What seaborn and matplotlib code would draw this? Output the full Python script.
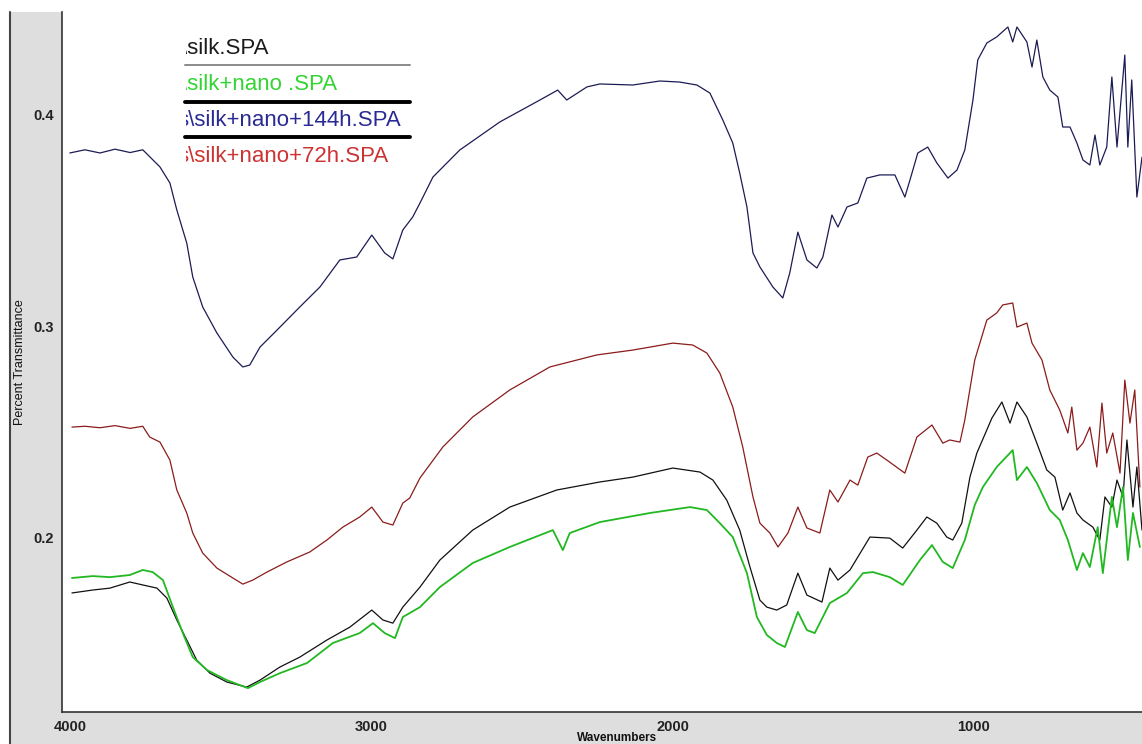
import matplotlib
matplotlib.use("Agg")
import matplotlib.pyplot as plt
from matplotlib.lines import Line2D
from matplotlib.patches import Rectangle
from matplotlib.transforms import Bbox
import pandas as pd
import seaborn as sns

# FTIR spectra (wavenumber, transmittance)
silk_wn = [3993, 3924, 3867, 3801, 3758, 3711, 3678, 3645, 3612, 3579, 3535, 3479, 3413, 3369, 3303,
           3237, 3147, 3071, 2998, 2961, 2928, 2895, 2838, 2772, 2663, 2540, 2384, 2241, 2132, 1999,
           1909, 1866, 1820, 1777, 1743, 1710, 1687, 1654, 1621, 1584, 1554, 1504, 1478, 1451, 1411,
           1345, 1279, 1236, 1189, 1156, 1123, 1090, 1070, 1040, 1013, 990, 940, 907, 880, 857,
           824, 791, 758, 731, 705, 681, 658, 638, 605, 582, 565, 542, 525, 505, 492, 472, 459, 442]
silk_t = [0.1735, 0.1749, 0.1758, 0.1787, 0.1773, 0.1758, 0.1711, 0.1607, 0.1512, 0.1417, 0.1355, 0.1313,
          0.1289, 0.1322, 0.1384, 0.1431, 0.1512, 0.1573, 0.1654, 0.1607, 0.1592, 0.1668, 0.1763, 0.1891,
          0.2033, 0.2142, 0.2223, 0.2261, 0.2284, 0.2327, 0.2308, 0.227, 0.2175, 0.2033, 0.1858, 0.1701,
          0.1668, 0.1654, 0.1678, 0.1829, 0.1725, 0.1692, 0.1853, 0.1796, 0.1844, 0.2, 0.1995, 0.1948,
          0.2033, 0.2095, 0.2066, 0.2, 0.1986, 0.2066, 0.2284, 0.2398, 0.2564, 0.264, 0.254, 0.264,
          0.2569, 0.2445, 0.2318, 0.2284, 0.2128, 0.2209, 0.2114, 0.2081, 0.2047, 0.1986, 0.219, 0.2142,
          0.227, 0.219, 0.246, 0.2142, 0.2332, 0.2033]

nano_wn = [3993, 3924, 3867, 3801, 3758, 3725, 3691, 3658, 3625, 3592, 3545, 3479, 3409, 3369, 3303,
           3213, 3127, 3038, 2994, 2955, 2921, 2895, 2838, 2772, 2663, 2540, 2397, 2364, 2341, 2241,
           2075, 1942, 1886, 1843, 1800, 1753, 1720, 1687, 1654, 1627, 1584, 1554, 1528, 1478, 1421,
           1368, 1335, 1279, 1236, 1179, 1139, 1103, 1070, 1030, 997, 970, 924, 871, 857, 824,
           791, 748, 715, 688, 658, 638, 615, 589, 572, 542, 525, 505, 489, 472, 449]
nano_t = [0.1806, 0.1815, 0.181, 0.182, 0.1844, 0.1834, 0.1796, 0.1668, 0.1545, 0.1431, 0.137, 0.1322,
          0.1284, 0.1313, 0.1355, 0.1403, 0.1498, 0.1545, 0.1592, 0.1545, 0.1521, 0.1621, 0.1668, 0.1763,
          0.1877, 0.1953, 0.2033, 0.1938, 0.2019, 0.2071, 0.2114, 0.2142, 0.2128, 0.2066, 0.2, 0.1829,
          0.1621, 0.1536, 0.1498, 0.1479, 0.1645, 0.1559, 0.1545, 0.1687, 0.1735, 0.1829, 0.1834, 0.181,
          0.1773, 0.1891, 0.1962, 0.1882, 0.1853, 0.1986, 0.2152, 0.2237, 0.2332, 0.2412, 0.227, 0.2332,
          0.2256, 0.2128, 0.2081, 0.1986, 0.1844, 0.1924, 0.1858, 0.2047, 0.1829, 0.219, 0.2047, 0.2237,
          0.1891, 0.2114, 0.1953]

h144_wn = [4000, 3950, 3900, 3850, 3800, 3758, 3701, 3668, 3645, 3612, 3592, 3559, 3512, 3459, 3426,
           3403, 3369, 3313, 3237, 3170, 3104, 3048, 2998, 2955, 2928, 2895, 2862, 2838, 2795, 2706,
           2573, 2440, 2381, 2351, 2284, 2241, 2132, 2042, 1976, 1919, 1876, 1833, 1800, 1777, 1753,
           1733, 1710, 1667, 1634, 1611, 1584, 1554, 1521, 1501, 1471, 1451, 1421, 1385, 1355, 1312,
           1262, 1229, 1212, 1186, 1153, 1123, 1086, 1056, 1030, 1003, 987, 957, 924, 887, 871,
           857, 824, 807, 791, 771, 748, 721, 705, 681, 658, 638, 615, 598, 582, 559,
           542, 525, 499, 489, 476, 459, 442]
h144_t = [0.382, 0.3835, 0.382, 0.3838, 0.3822, 0.3835, 0.3754, 0.3678, 0.355, 0.3393, 0.3232, 0.309,
          0.2967, 0.2853, 0.2806, 0.2815, 0.290, 0.298, 0.309, 0.3185, 0.3313, 0.3327, 0.3431, 0.3346,
          0.3318, 0.3455, 0.3517, 0.3583, 0.3706, 0.3834, 0.3967, 0.4071, 0.4118, 0.4071, 0.4133, 0.4147,
          0.4142, 0.4161, 0.4156, 0.4142, 0.4104, 0.3976, 0.3867, 0.3725, 0.3564, 0.3346, 0.328, 0.3185,
          0.3133, 0.3251, 0.3445, 0.3313, 0.3275, 0.3327, 0.3526, 0.3469, 0.3564, 0.3583, 0.3701, 0.3716,
          0.3716, 0.3611, 0.3692, 0.382, 0.3848, 0.3773, 0.3701, 0.3739, 0.3834, 0.4071, 0.4261, 0.4341,
          0.437, 0.4417, 0.4346, 0.4417, 0.4346, 0.4227, 0.4355, 0.418, 0.4118, 0.4085, 0.3943, 0.3943,
          0.3867, 0.3787, 0.3763, 0.3905, 0.3763, 0.3848, 0.418, 0.3848, 0.4284, 0.3848, 0.4166, 0.3611, 0.38]

h72_wn = [3993, 3950, 3900, 3850, 3800, 3758, 3735, 3701, 3668, 3645, 3612, 3592, 3559, 3512, 3459,
          3426, 3393, 3346, 3280, 3204, 3147, 3094, 3038, 2998, 2961, 2928, 2895, 2872, 2838, 2762,
          2663, 2540, 2407, 2251, 2132, 1999, 1933, 1886, 1843, 1800, 1767, 1733, 1710, 1677, 1650,
          1617, 1584, 1554, 1511, 1478, 1451, 1411, 1385, 1352, 1322, 1289, 1229, 1189, 1139, 1103,
          1080, 1046, 1030, 997, 957, 924, 904, 871, 857, 824, 807, 774, 748, 715, 688,
          675, 658, 638, 615, 592, 575, 559, 539, 515, 499, 482, 466, 449]
h72_t = [0.2521, 0.2525, 0.2518, 0.2528, 0.2515, 0.2525, 0.2474, 0.245, 0.2365, 0.2223, 0.2114, 0.2019,
         0.1924, 0.1853, 0.1806, 0.1777, 0.1796, 0.1834, 0.1882, 0.1929, 0.1986, 0.2047, 0.2095, 0.2142,
         0.2071, 0.2057, 0.2161, 0.2185, 0.228, 0.2427, 0.2569, 0.2697, 0.2806, 0.2863, 0.2886, 0.2919,
         0.291, 0.2872, 0.2777, 0.2616, 0.2427, 0.219, 0.2066, 0.2019, 0.1953, 0.2019, 0.2142, 0.2043,
         0.2019, 0.2223, 0.2166, 0.227, 0.2246, 0.2379, 0.2398, 0.2365, 0.2303, 0.2474, 0.2531, 0.2445,
         0.246, 0.245, 0.2555, 0.2839, 0.3028, 0.3062, 0.31, 0.3109, 0.2995, 0.3014, 0.2919, 0.2839,
         0.2697, 0.2602, 0.2493, 0.2616, 0.2412, 0.2445, 0.2521, 0.2332, 0.2635, 0.2398, 0.2493, 0.2303,
         0.2744, 0.254, 0.2697, 0.2237]

legend_labels = ["\\silk.SPA", "\\silk+nano .SPA", "s\\silk+nano+144h.SPA", "s\\silk+nano+72h.SPA"]
legend_colors = ["#1a1a1a", "#33d433", "#2a2a95", "#cc3333"]
legend_x = [181, 181, 177, 177]

sns.set_style("white")
fam = ["Liberation Sans", "DejaVu Sans"]
plt.rcParams["font.family"] = fam

W, H = 1142, 744
fig = plt.figure(figsize=(W / 100, H / 100), dpi=100, facecolor="white")

# grey frame panel behind the plot
fig.patches.append(Rectangle((10 / W, 0), 1 - 10 / W, 1 - 12 / H, transform=fig.transFigure,
                             facecolor="#dedede", edgecolor="none", zorder=-5))
fig.lines.append(Line2D([10 / W, 10 / W], [0, 1 - 12 / H], transform=fig.transFigure,
                        color="#444444", lw=1.5, zorder=-4))

ax = fig.add_axes([62 / W, 32 / H, 1 - 62 / W, (712 - 12) / H])
ax.set_zorder(1)
ax.set_facecolor("white")

series = [(silk_wn, silk_t, "#111111", 0.9),
          (nano_wn, nano_t, "#22b822", 1.3),
          (h72_wn, h72_t, "#8a1c1c", 0.9),
          (h144_wn, h144_t, "#1c1c55", 0.9)]
for wn, t, col, lw in series:
    df = pd.DataFrame({"wn": wn, "t": t})
    sns.lineplot(data=df, x="wn", y="t", ax=ax, color=col, linewidth=lw, estimator=None)

ax.set_xlim(4026, 442)
ax.set_ylim(0.1171, 0.4488)
ax.set_xticks([4000, 3000, 2000, 1000])
ax.set_yticks([0.2, 0.3, 0.4])
ax.set_xticklabels(["4000", "3000", "2000", "1000"])
ax.set_yticklabels(["0.2", "0.3", "0.4"])
for lab in ax.get_xticklabels() + ax.get_yticklabels():
    lab.set_fontweight("bold")
    lab.set_fontsize(10.5)
ax.tick_params(direction="out", length=4, width=1, color="#333333", pad=2, labelcolor="#222222")

for side in ["top", "right"]:
    ax.spines[side].set_visible(False)
for side in ["left", "bottom"]:
    ax.spines[side].set_color("#333333")
    ax.spines[side].set_linewidth(1.2)

ax.set_xlabel("Wavenumbers", fontweight="bold", fontsize=8.5, color="#111111")
ax.xaxis.set_label_coords((617 - 62) / (W - 62), -0.029)
ax.set_ylabel("Percent Transmittance", fontsize=9, color="#111111")
ax.yaxis.set_label_coords(-0.033, 0.5)

# the software's own legend block, text clipped at its left edge
clip = Bbox.from_extents(186, 0, W, H)
for i, (lab, col) in enumerate(zip(legend_labels, legend_colors)):
    y = 1 - (48 + 36 * i) / H
    t = fig.text(legend_x[i] / W, y, lab, color=col, fontsize=16, va="center", ha="left", zorder=5)
    t.set_clip_box(clip)
    t.set_clip_on(True)
fig.lines.append(Line2D([185 / W, 410 / W], [1 - 65 / H] * 2, transform=fig.transFigure,
                        color="#8a8a8a", lw=1.4, zorder=5))
for py in [102, 137]:
    fig.lines.append(Line2D([185 / W, 410 / W], [1 - py / H] * 2, transform=fig.transFigure,
                            color="#000000", lw=2.8, zorder=5))

fig.savefig("out.png", dpi=100, facecolor=fig.get_facecolor())
